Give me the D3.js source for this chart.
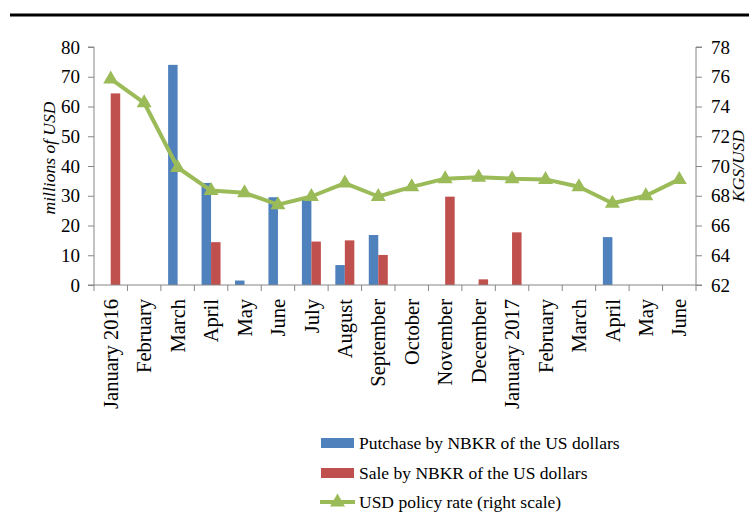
<!DOCTYPE html>
<html>
<head>
<meta charset="utf-8">
<script src="https://cdn.jsdelivr.net/npm/d3@7"></script>
<style>
  html, body { margin: 0; padding: 0; background: #fff; }
  svg { display: block; }
  text { font-family: "Liberation Serif", "Times New Roman", serif; fill: #000; }
</style>
</head>
<body>
<svg id="chart" width="749" height="524"></svg>
<script>
const categories = ["January 2016","February","March","April","May","June","July","August","September","October","November","December","January 2017","February","March","April","May","June"];
const purchase = [0, 0, 74, 34.3, 1.5, 29.5, 28.8, 6.7, 16.8, 0, 0, 0, 0, 0, 0, 16.1, 0, 0];
const sale = [64.4, 0, 0, 14.4, 0, 0, 14.6, 15.0, 10.1, 0, 29.7, 1.9, 17.7, 0, 0, 0, 0, 0];
const rate = [75.85, 74.25, 69.9, 68.35, 68.2, 67.4, 67.95, 68.85, 67.95, 68.6, 69.15, 69.25, 69.15, 69.1, 68.6, 67.5, 68.0, 69.1];
const leftTicks = [0,10,20,30,40,50,60,70,80];
const rightTicks = [62,64,66,68,70,72,74,76,78];
const legendLabels = ["Putchase by NBKR of the US dollars","Sale by NBKR of the US dollars","USD policy rate (right scale)"];

const BLUE = "#4F81BD", RED = "#C0504D", GREEN = "#9BBB59", AXIS = "#868686";

const svg = d3.select("#chart");
const pLeft = 94, pRight = 696, pTop = 47, pBottom = 285;

// top rule
svg.append("line").attr("x1", 10).attr("x2", 749).attr("y1", 15).attr("y2", 15)
  .attr("stroke", "#000").attr("stroke-width", 3);

const idx = categories.map((d, i) => i);
const x = d3.scaleBand().domain(idx).range([pLeft, pRight]).paddingInner(0).paddingOuter(0);
const yL = d3.scaleLinear().domain([0, 80]).range([pBottom, pTop]);
const yR = d3.scaleLinear().domain([62, 78]).range([pBottom, pTop]);
const bw = 9.5;

// bars
const g = svg.append("g");
g.selectAll("rect.p").data(purchase).join("rect").attr("class", "p")
  .attr("x", (d, i) => x(i) + x.bandwidth() / 2 - bw)
  .attr("width", bw)
  .attr("y", d => yL(d)).attr("height", d => yL(0) - yL(d))
  .attr("fill", BLUE);
g.selectAll("rect.s").data(sale).join("rect").attr("class", "s")
  .attr("x", (d, i) => x(i) + x.bandwidth() / 2)
  .attr("width", bw)
  .attr("y", d => yL(d)).attr("height", d => yL(0) - yL(d))
  .attr("fill", RED);

// left axis
const la = svg.append("g").attr("transform", `translate(${pLeft},0)`)
  .call(d3.axisLeft(yL).tickValues(leftTicks).tickSize(6).tickPadding(8).tickFormat(d3.format("d")));
la.selectAll("path,line").attr("stroke", AXIS);
la.select("path").attr("d", `M-6,${pTop}H0V${pBottom}H-6`);
la.selectAll("text").attr("font-size", 19).style("font-family", "Liberation Serif");

// right axis
const ra = svg.append("g").attr("transform", `translate(${pRight},0)`)
  .call(d3.axisRight(yR).tickValues(rightTicks).tickSize(6).tickPadding(9).tickFormat(d3.format("d")));
ra.selectAll("path,line").attr("stroke", AXIS);
ra.select("path").attr("d", `M6,${pTop}H0V${pBottom}H6`);
ra.selectAll("text").attr("font-size", 19).style("font-family", "Liberation Serif");

// x axis
const xa = svg.append("g").attr("transform", `translate(0,${pBottom})`);
xa.append("line").attr("x1", pLeft).attr("x2", pRight).attr("y1", 0).attr("y2", 0).attr("stroke", AXIS);
const bounds = idx.map(i => x(i)).concat([pRight]);
xa.selectAll("line.t").data(bounds).join("line").attr("class", "t")
  .attr("x1", d => d).attr("x2", d => d).attr("y1", 0).attr("y2", 6).attr("stroke", AXIS);
xa.selectAll("text").data(categories).join("text")
  .attr("transform", (d, i) => `translate(${x(i) + x.bandwidth() / 2},14) rotate(-90)`)
  .attr("text-anchor", "end").attr("dy", "0.35em")
  .attr("font-size", 20.5).text(d => d);

// line
const line = d3.line().x((d, i) => x(i) + x.bandwidth() / 2).y(d => yR(d));
svg.append("path").datum(rate).attr("d", line).attr("fill", "none")
  .attr("stroke", GREEN).attr("stroke-width", 4).attr("stroke-linejoin", "round");
const tri = "M0,-8.5L7.5,4.5L-7.5,4.5Z";
svg.selectAll("path.m").data(rate).join("path").attr("class", "m")
  .attr("d", tri)
  .attr("transform", (d, i) => `translate(${x(i) + x.bandwidth() / 2},${yR(d)})`)
  .attr("fill", GREEN);

// axis titles
svg.append("text").attr("transform", `translate(49,${(pTop + pBottom) / 2 - 8}) rotate(-90)`)
  .attr("text-anchor", "middle").attr("dy", "0.35em")
  .attr("font-size", 17.5).attr("font-style", "italic").text("millions of USD");
svg.append("text").attr("transform", `translate(738,${(pTop + pBottom) / 2}) rotate(-90)`)
  .attr("text-anchor", "middle").attr("dy", "0.35em")
  .attr("font-size", 17.5).attr("font-style", "italic").text("KGS/USD");

// legend
const lg = svg.append("g");
const rows = [443, 473, 502];
[BLUE, RED].forEach((c, i) => {
  lg.append("rect").attr("x", 321).attr("y", rows[i] - 5).attr("width", 33).attr("height", 10).attr("fill", c);
});
lg.append("line").attr("x1", 320).attr("x2", 355).attr("y1", rows[2]).attr("y2", rows[2])
  .attr("stroke", GREEN).attr("stroke-width", 4);
lg.append("path").attr("d", tri).attr("transform", `translate(337.5,${rows[2]})`).attr("fill", GREEN);
lg.selectAll("text").data(legendLabels).join("text")
  .attr("x", 359).attr("y", (d, i) => rows[i]).attr("dy", "0.35em")
  .attr("font-size", 17.5).text(d => d);
</script>
</body>
</html>
